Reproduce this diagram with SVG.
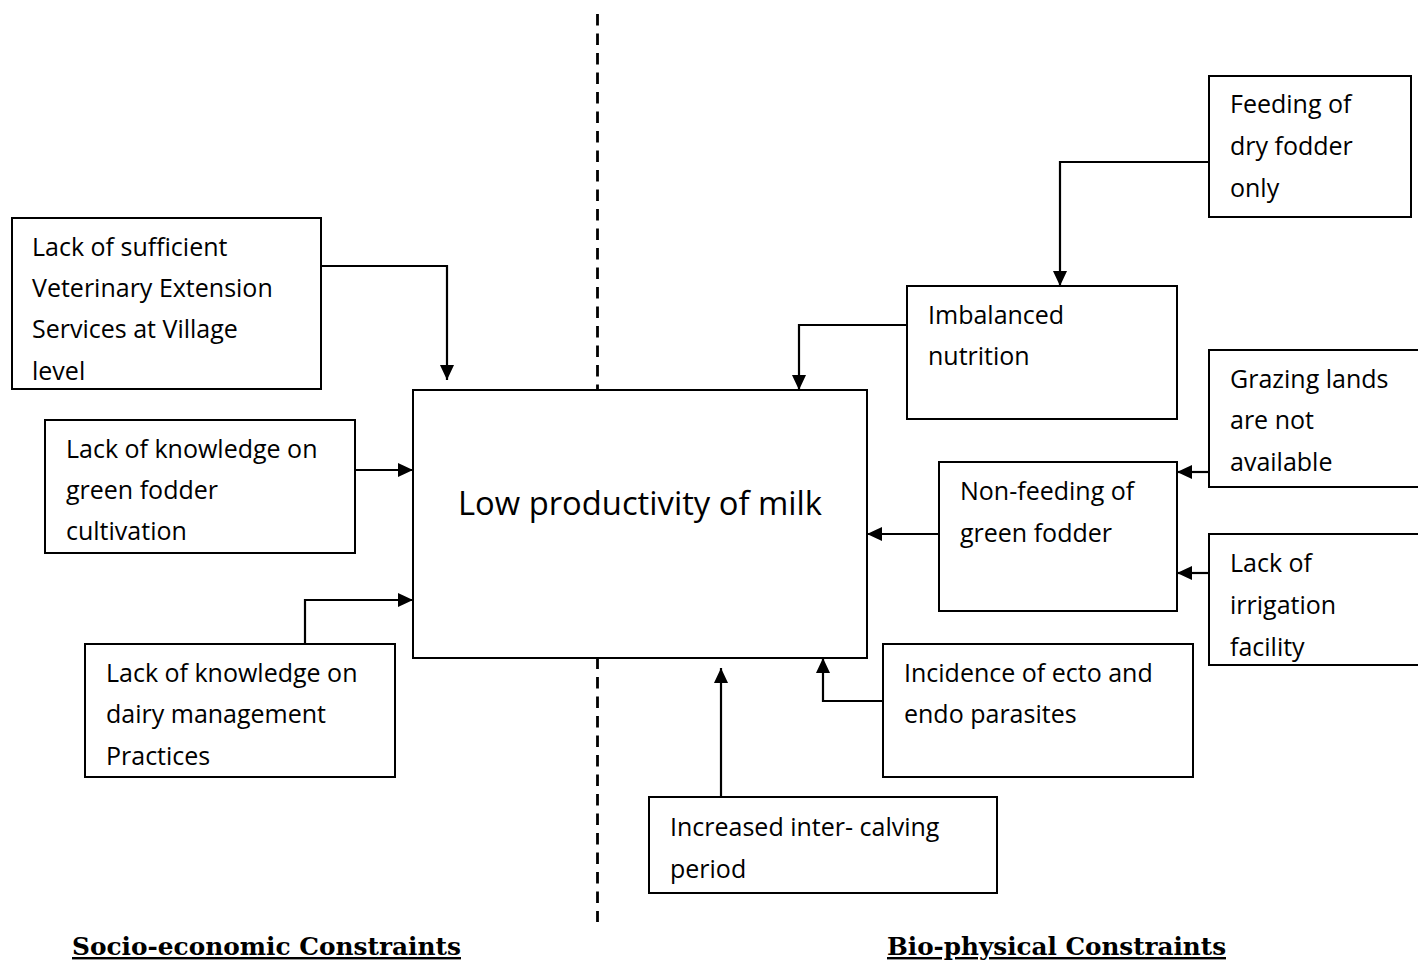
<svg xmlns="http://www.w3.org/2000/svg" width="1418" height="976" viewBox="0 0 1418 976">
<style>
.box{fill:#fff;stroke:#000;stroke-width:2}
.t{font-family:"Open Sans","Liberation Sans",sans-serif;font-size:25px;fill:#000}
.main{font-family:"Open Sans","Liberation Sans",sans-serif;font-size:32px;fill:#000}
.c{fill:none;stroke:#000;stroke-width:2.2}
.lbl{font-family:"DejaVu Serif","Liberation Serif",serif;font-weight:bold;font-size:24px;fill:#000;text-decoration:underline}
</style>
<defs>
<marker id="ah" markerUnits="userSpaceOnUse" markerWidth="15" markerHeight="15" viewBox="0 0 15 15" refX="15" refY="7.5" orient="auto">
<path d="M0,0.5 L15,7.5 L0,14.5 Z" fill="#000"/>
</marker>
<clipPath id="clipH"><rect x="1209" y="534" width="220" height="131"/></clipPath>
</defs>
<line x1="597.5" y1="14" x2="597.5" y2="922" stroke="#000" stroke-width="2.8" stroke-dasharray="11.5 8"/>
<g id="connectors">
<polyline class="c" points="321,266 447,266 447,380" marker-end="url(#ah)"/>
<polyline class="c" points="355,470 413,470" marker-end="url(#ah)"/>
<polyline class="c" points="305,644 305,600 413,600" marker-end="url(#ah)"/>
<polyline class="c" points="1209,162 1060,162 1060,286" marker-end="url(#ah)"/>
<polyline class="c" points="907,325 799,325 799,390" marker-end="url(#ah)"/>
<polyline class="c" points="1209,472 1177,472" marker-end="url(#ah)"/>
<polyline class="c" points="1209,573 1177,573" marker-end="url(#ah)"/>
<polyline class="c" points="939,534 867,534" marker-end="url(#ah)"/>
<polyline class="c" points="883,701 823,701 823,658" marker-end="url(#ah)"/>
<polyline class="c" points="721,797 721,668" marker-end="url(#ah)"/>
</g>
<g id="main">
<rect class="box" x="413" y="390" width="454" height="268"/>
<text class="main" x="458" y="515" textLength="364" lengthAdjust="spacingAndGlyphs">Low productivity of milk</text>
</g>
<g id="vet">
<rect class="box" x="12" y="218" width="309" height="171"/>
<text class="t" x="32" y="256">Lack of sufficient</text>
<text class="t" x="32" y="297">Veterinary Extension</text>
<text class="t" x="32" y="338">Services at Village</text>
<text class="t" x="32" y="380">level</text>
</g>
<g id="greenknow">
<rect class="box" x="45" y="420" width="310" height="133"/>
<text class="t" x="66" y="458">Lack of knowledge on</text>
<text class="t" x="66" y="499">green fodder</text>
<text class="t" x="66" y="540">cultivation</text>
</g>
<g id="dairyknow">
<rect class="box" x="85" y="644" width="310" height="133"/>
<text class="t" x="106" y="682">Lack of knowledge on</text>
<text class="t" x="106" y="723">dairy management</text>
<text class="t" x="106" y="765">Practices</text>
</g>
<g id="dryfodder">
<rect class="box" x="1209" y="76" width="202" height="141"/>
<text class="t" x="1230" y="113">Feeding of</text>
<text class="t" x="1230" y="155">dry fodder</text>
<text class="t" x="1230" y="197">only</text>
</g>
<g id="imbalanced">
<rect class="box" x="907" y="286" width="270" height="133"/>
<text class="t" x="928" y="324">Imbalanced</text>
<text class="t" x="928" y="365">nutrition</text>
</g>
<g id="grazing">
<rect class="box" x="1209" y="350" width="220" height="137"/>
<text class="t" x="1230" y="388">Grazing lands</text>
<text class="t" x="1230" y="429">are not</text>
<text class="t" x="1230" y="471">available</text>
</g>
<g id="nonfeeding">
<rect class="box" x="939" y="462" width="238" height="149"/>
<text class="t" x="960" y="500">Non-feeding of</text>
<text class="t" x="960" y="542">green fodder</text>
</g>
<g id="irrigation">
<rect class="box" x="1209" y="534" width="220" height="131"/>
<g clip-path="url(#clipH)">
<text class="t" x="1230" y="572">Lack of</text>
<text class="t" x="1230" y="614">irrigation</text>
<text class="t" x="1230" y="656">facility</text>
</g>
</g>
<g id="parasites">
<rect class="box" x="883" y="644" width="310" height="133"/>
<text class="t" x="904" y="682">Incidence of ecto and</text>
<text class="t" x="904" y="723">endo parasites</text>
</g>
<g id="calving">
<rect class="box" x="649" y="797" width="348" height="96"/>
<text class="t" x="670" y="836">Increased inter- calving</text>
<text class="t" x="670" y="878">period</text>
</g>
<g id="labels">
<text class="lbl" x="72" y="955" textLength="389" lengthAdjust="spacingAndGlyphs">Socio-economic Constraints</text>
<text class="lbl" x="887" y="955" textLength="339" lengthAdjust="spacingAndGlyphs">Bio-physical Constraints</text>
</g>
</svg>
